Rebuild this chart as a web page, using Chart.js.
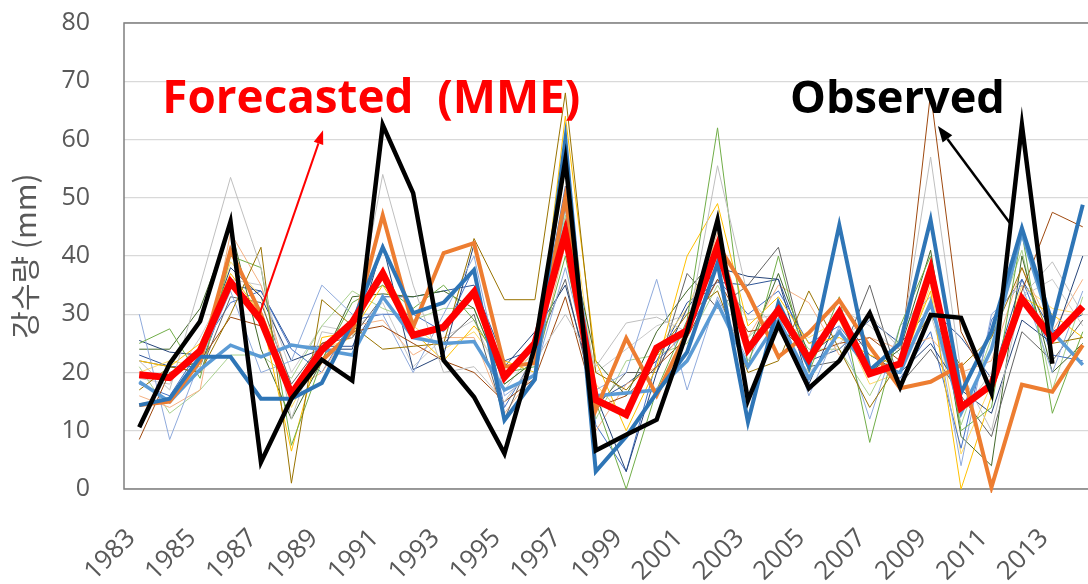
<!DOCTYPE html>
<html>
<head>
<meta charset="utf-8">
<script src="https://cdn.jsdelivr.net/npm/chart.js@4.4.1/dist/chart.umd.min.js"></script>
<style>
  html, body { margin: 0; padding: 0; background: #fff; overflow: hidden; }
  #wrap { position: absolute; left: 0; top: 0; width: 1098px; height: 584px; }
</style>
</head>
<body>
<div id="wrap"><canvas id="c"></canvas></div>
<script>
// ---------- DATA ----------
const years = ['1983','1984','1985','1986','1987','1988','1989','1990','1991','1992','1993','1994','1995','1996','1997','1998','1999','2000','2001','2002','2003','2004','2005','2006','2007','2008','2009','2010','2011','2012','2013','2014'];
const yTicks = [0,10,20,30,40,50,60,70,80];
const yAxisTitle = '강수량 (mm)';
const labelForecast = 'Forecasted  (MME)';
const labelObserved = 'Observed';

const observed = [10.6,21.5,28.8,45.9,4.6,15.5,22.2,18.6,62.5,50.8,22.1,15.8,6.1,24.5,56.5,6.6,9.3,11.9,27,46.2,15.2,28.2,17.3,22,30.2,17.5,29.9,29.4,16.5,62.5,21.5,null];
const mme = [19.6,19.1,23.7,35.5,29,16.3,23.9,28.6,37,26.4,27.8,33.8,19.2,25,43.9,15.3,12.8,24.2,27.2,41.6,24,30.7,22.3,30.3,19.8,21.5,37.6,14,17.9,32.6,25.8,31.3];
const modelBlueA = [14.4,15.5,22.7,22.7,15.5,15.5,18.2,28.5,41.5,30.2,32,37.6,11.8,18.8,60,3,9,16.5,23.5,38.8,11.5,31.9,21,45.3,20.4,25,46.2,16.5,27,44.8,28.5,48.8];
const modelBlueB = [18.4,15,20.5,24.7,22.7,24.7,23.9,23,33,26,25,25.3,17,19.5,49.6,16,16.5,17,22,31.9,21,29,19,27,20.5,20,32,13,24,44,27,21.3];
const modelOrange = [14.4,15,22,41,30,16,22,27,47,27.8,40.5,42.2,21,21.6,50,13.6,25.9,16.1,27,42,33.6,22.7,26.8,32.4,24.4,17.3,18.4,21.3,0.3,17.9,16.7,24.7];

const member01 = [22,17,35,53.5,38,12,27,26,54,35,20,21,15,22,30,21,28.5,29.5,27,55.5,33,27,20,25,30,24,57,20,10,33,39,30];
const member02 = [17,21,20,30,41.5,1,32.5,28,24,24.5,25,43,32.5,32.5,68,20,17,23,30,34,20,22,34,24,14,22,30,21,26,38,25,26];
const member03 = [25,27.5,19,40,38,7.5,22,32,35,31,35,29,20,21,40,15,0,17,29,62,21,40,20,33,8,28,40,10,14,44,13,27];
const member04 = [8.5,20,22,29.5,28,17,25,27,28,25,22,20,15,19,33,14,16,21,26,36,27,28,23,25,26,22,68,27,17,34,47.5,45];
const member05 = [22,21,25,37,30,6.5,26,27,35,27,22,28,22,20,64,22,10,21,40,49,28,33,25,26,23,21,34,0,16,33,30,26];
const member06 = [30,8.5,22,34,20,22,35,30,30,20,30,40,16,20,38,17,20,36,17,33,22,32,16,28,12,28,33,4,30,35,20,34];
const member07 = [25.5,23.5,23,38,33,22,24,24,42,20.5,23,42,21,27,35,16,3,20,31,38,36.5,36,18,30,23,20,25,17,13,29,25,40];
const member08 = [22,21,20,33,32,18,25,26,33,26,25,30,12,24,36,14,20,20,37,31,35,41.5,21,22,35,18,24,16,9,27,22,29];
const member09 = [24,24,31,45,24,12,22,33,33.5,33,34,31,18,22,46,22,16,27,34,40,24,37,23,27,20,24,41,9,4,40,20,25];
const member10 = [16,14,17,44,35,17,20,28,29,23,26,26,13,20,42,10,18,21,28,44,26,35,32,23,26,24,26,20,22,38,27,36];
const member11 = [18,16,24,32,34,24,20,29,30,30,27,38,14,23,52,11,3,22,27,36,30,34,25,28,21,19,27,7,29,36,23,22];
const member12 = [21,13,17,23,23,19,28,34,31,29,31,31,18,22,47,12,22,23,25,35,26,31,24,24,16,26,36,11,26,41,17,33];
const member13 = [19,18,26,36,35,20,28,27,32,21,26,29,17,24,45,20,24,28,30,38,29,30,21,31,28,23,30,13,20,33,36,28];
const member14 = [20,22,21,39,33,14,24,26,38,28,24,27,20,23,55,18,12,24,31,43,25,29,26,29,18,20,35,6,18,35,31,30];
const member15 = [23,21,21,35,34,24.5,24.5,24.5,33,33,34,35,22,24,42,15,18,22,32,35.5,35,36,22,24,29,25,31,26,19,36,27,30];

// ---------- STYLES ----------
const thinMembers = [member01,member02,member03,member04,member05,member06,member07,member08,member09,member10,member11,member12,member13,member14,member15];
const thinColors = ['#BFBFBF','#997300','#70AD47','#9E480E','#FFC000','#8FAADC','#264478','#636363','#43682B','#F4B183','#4472C4','#A9D18E','#C9C9C9','#FFD966','#2F5597'];

const datasets = [
  { label: 'Observed', data: observed, borderColor: '#000000', borderWidth: 4.5 },
  { label: 'MME', data: mme, borderColor: '#FF0000', borderWidth: 7 },
  { label: 'M-A', data: modelBlueA, borderColor: '#2E75B6', borderWidth: 4 },
  { label: 'M-O', data: modelOrange, borderColor: '#ED7D31', borderWidth: 4 },
  { label: 'M-B', data: modelBlueB, borderColor: '#5B9BD5', borderWidth: 3.5 }
];
thinMembers.forEach((m, i) => datasets.push({ label: 'm' + (i + 1), data: m, borderColor: thinColors[i], borderWidth: 1 }));
datasets.forEach(d => { d.pointRadius = 0; d.tension = 0; d.fill = false; d.spanGaps = false; d.borderJoinStyle = 'miter'; d.clip = 4; });

const FONT = "'Open Sans', 'Noto Sans', sans-serif";

function arrow(ctx, x1, y1, x2, y2, color, width, headLen, headW) {
  const ang = Math.atan2(y2 - y1, x2 - x1);
  const bx = x2 - headLen * Math.cos(ang), by = y2 - headLen * Math.sin(ang);
  ctx.save();
  ctx.strokeStyle = color; ctx.fillStyle = color; ctx.lineWidth = width;
  ctx.beginPath(); ctx.moveTo(x1, y1); ctx.lineTo(bx, by); ctx.stroke();
  ctx.beginPath();
  ctx.moveTo(x2, y2);
  ctx.lineTo(bx + headW / 2 * Math.sin(ang), by - headW / 2 * Math.cos(ang));
  ctx.lineTo(bx - headW / 2 * Math.sin(ang), by + headW / 2 * Math.cos(ang));
  ctx.closePath(); ctx.fill();
  ctx.restore();
}

function fitText(ctx, text, x, y, targetW, baseSize, color) {
  ctx.save();
  ctx.font = 'bold ' + baseSize + 'px ' + FONT;
  const w = ctx.measureText(text).width;
  const size = baseSize * targetW / w;
  ctx.font = 'bold ' + size.toFixed(2) + 'px ' + FONT;
  ctx.fillStyle = color; ctx.textBaseline = 'alphabetic'; ctx.textAlign = 'left';
  ctx.fillText(text, x, y);
  ctx.restore();
}

const decor = {
  id: 'decor',
  beforeDatasetsDraw(chart) {
    const { ctx, chartArea: a } = chart;
    ctx.save();
    ctx.strokeStyle = '#7F7F7F'; ctx.lineWidth = 1.5;
    ctx.strokeRect(a.left, a.top, a.right - a.left, a.bottom - a.top);
    ctx.restore();
  },
  afterDatasetsDraw(chart) {
    const { ctx } = chart;
    const xs = chart.scales.x, ys = chart.scales.y;
    const X = v => xs.getPixelForValue(v), Y = v => ys.getPixelForValue(v);
    fitText(ctx, labelForecast, X(0.76), Y(64.5), 418, 46, '#FF0000');
    fitText(ctx, labelObserved, X(21.38), Y(64.5), 215, 46, '#000000');
    arrow(ctx, X(3.94), Y(29.9), X(6.04), Y(61.6), '#FF0000', 2, 14, 10);
    arrow(ctx, X(28.6), Y(45.7), X(26.24), Y(62.3), '#000000', 2.5, 16, 12);
  }
};

new Chart(document.getElementById('c'), {
  type: 'line',
  data: { labels: years, datasets },
  plugins: [decor],
  options: {
    responsive: true, maintainAspectRatio: false, animation: false, devicePixelRatio: 1,
    layout: { padding: { top: 23, left: 0, right: 0, bottom: 0 } },
    plugins: { legend: { display: false }, tooltip: { enabled: false } },
    scales: {
      x: {
        type: 'category', offset: true,
        grid: { display: false, drawTicks: false },
        border: { display: false },
        ticks: {
          autoSkip: false, maxRotation: 45, minRotation: 45, padding: 34, labelOffset: -8,
          color: '#595959', font: { family: FONT, size: 26 },
          callback: function (v, i) { return i % 2 === 0 ? years[i] : ''; }
        },
        afterFit(s) { s.height = 95; s.paddingLeft = 0; s.paddingRight = 0; }
      },
      y: {
        min: 0, max: 80,
        afterBuildTicks(s) { s.ticks = yTicks.map(v => ({ value: v })); },
        grid: { color: '#D9D9D9', lineWidth: 1.3, drawTicks: false },
        border: { display: false },
        ticks: { padding: 34, color: '#595959', font: { family: FONT, size: 25 } },
        title: { display: true, text: yAxisTitle, color: '#595959', font: { family: "'Noto Sans CJK KR', " + FONT, size: 30 }, padding: { top: 7, bottom: 0 } },
        afterFit(s) { s.width = 124; s.paddingTop = 0; s.paddingBottom = 0; }
      }
    }
  }
});
</script>
</body>
</html>
